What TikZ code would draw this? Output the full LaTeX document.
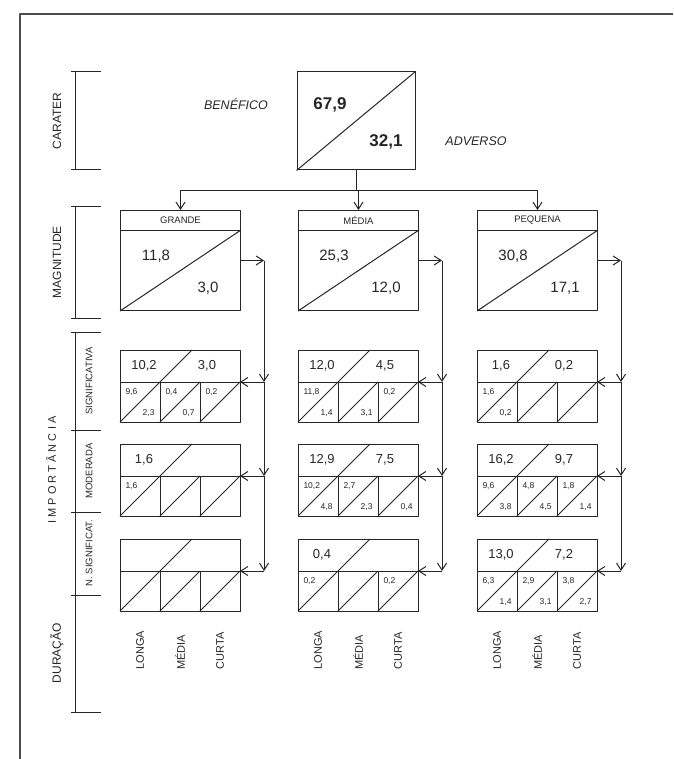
\documentclass[tikz,border=0pt]{standalone}
\usepackage{fontspec}
\setmainfont{Liberation Sans}
\usetikzlibrary{arrows.meta,positioning,calc}
\newcommand{\fs}[1]{\fontsize{#1}{#1}\selectfont}

\begin{document}
\begin{tikzpicture}[x=1pt,y=-1pt,line join=round,line width=1pt,color=black!85,
  >={Straight Barb[length=7pt,width=9pt]},
  magbox/.style={draw,minimum width=120pt,minimum height=100pt,inner sep=0pt,anchor=north west},
  impbox/.style={draw,minimum width=120pt,minimum height=72pt,inner sep=0pt,anchor=north west},
  lbl/.style={inner sep=0pt},
  axis/.style={rotate=90,font=\fs{12}},
  sub/.style={rotate=90,font=\fs{9.5}},
  dur/.style={rotate=90,anchor=west,font=\fs{11}},
  sm/.style={font=\fs{8.5}}]
\useasboundingbox (0,0) rectangle (673,759);
\draw[line width=1.4pt,black!70] (20,759) -- (20,14) -- (673,14);
% left scale
\draw (71,72) -- (101,72) (75,72) -- (75,170) (71,170) -- (101,170);
\draw (71,207) -- (101,207) (75,207) -- (75,318) (71,318) -- (101,318);
\draw (75,332) -- (75,712);
\foreach \t in {332,430,512,595,712} \draw (71,\t) -- (101,\t);
\node[lbl,axis] (lcar) at (57,121) {CARATER};
\node[lbl,axis] (lmag) at (57,262) {MAGNITUDE};
\node[lbl,rotate=90,font=\fs{11}\addfontfeature{LetterSpace=28}] (limp) at (51,470) {IMPORTÂNCIA};
\node[lbl,sub] (lsig) at (89,381) {SIGNIFICATIVA};
\node[lbl,sub] (lmod) at (89,471) {MODERADA};
\node[lbl,sub] (lnsg) at (89,553) {N. SIGNIFICAT.};
\node[lbl,axis] (ldur) at (57,653) {DURAÇÃO};
% carater
\node[draw,minimum width=118pt,minimum height=98pt,inner sep=0pt] (car) at (356,121) {};
\draw (car.south west) -- (car.north east);
\node[lbl,font=\bfseries\fs{17}] (benv) at (330,105) {67,9};
\node[lbl,font=\bfseries\fs{17}] (advv) at (386,142) {32,1};
\node[lbl,font=\itshape\fs{12.5}] (bent) at (236,104) {BENÉFICO};
\node[lbl,font=\itshape\fs{12.5}] (advt) at (476,141) {ADVERSO};
\draw (car.south) -- ++(0,20) coordinate (hub);
% magnitude
\foreach \c/\xl/\nm/\vA/\vB in {G/120/GRANDE/{11,8}/{3,0}, M/298/MÉDIA/{25,3}/{12,0}, P/477/PEQUENA/{30,8}/{17,1}}{
  \node[magbox] (mag\c) at (\xl,210) {};
  \draw ($(mag\c.north west)+(0,20)$) -- ($(mag\c.north east)+(0,20)$) coordinate (hr\c);
  \draw (mag\c.south west) -- (hr\c);
  \node[lbl,font=\fs{9.5}] (hd\c) at ($(mag\c.north)+(0,10)$) {\nm};
  \node[lbl,font=\fs{15}] (va\c) at (\xl+36,256) {\vA};
  \node[lbl,font=\fs{15}] (vb\c) at (\xl+88,288) {\vB};
  \coordinate (j\c0) at ($(mag\c.east)+(23,0)$);
  \draw[->] (mag\c.east) -- (j\c0);
  \draw[->] (mag\c.north |- hub) -- (mag\c.north);
}
\draw (magG.north |- hub) -- (magP.north |- hub);
% importancia x duracao
\foreach \c/\xl/\r/\yt/\nL/\nR/\aT/\aB/\bT/\bB/\cT/\cB in {
  G/120/1/350/{10,2}/{3,0}/{9,6}/{2,3}/{0,4}/{0,7}/{0,2}/{},
  G/120/2/444/{1,6}/{}/{1,6}/{}/{}/{}/{}/{},
  G/120/3/539/{}/{}/{}/{}/{}/{}/{}/{},
  M/298/1/350/{12,0}/{4,5}/{11,8}/{1,4}/{}/{3,1}/{0,2}/{},
  M/298/2/444/{12,9}/{7,5}/{10,2}/{4,8}/{2,7}/{2,3}/{}/{0,4},
  M/298/3/539/{0,4}/{}/{0,2}/{}/{}/{}/{0,2}/{},
  P/477/1/350/{1,6}/{0,2}/{1,6}/{0,2}/{}/{}/{}/{},
  P/477/2/444/{16,2}/{9,7}/{9,6}/{3,8}/{4,8}/{4,5}/{1,8}/{1,4},
  P/477/3/539/{13,0}/{7,2}/{6,3}/{1,4}/{2,9}/{3,1}/{3,8}/{2,7}}{
  \node[impbox] (b\c\r) at (\xl,\yt) {};
  \draw (\xl,\yt+32) -- (\xl+120,\yt+32) coordinate (m\c\r);
  \draw (\xl+40,\yt+32) -- (\xl+40,\yt+72) (\xl+80,\yt+32) -- (\xl+80,\yt+72);
  \draw (\xl,\yt+72) -- (\xl+72,\yt) (\xl+40,\yt+72) -- (\xl+80,\yt+32)
    (\xl+80,\yt+72) -- (\xl+120,\yt+32);
  \node[lbl,font=\fs{13}] (nl\c\r) at (\xl+24,\yt+16) {\nL};
  \node[lbl,font=\fs{13}] (nr\c\r) at (\xl+87,\yt+16) {\nR};
  \node[lbl,sm,anchor=west] (at\c\r) at (\xl+5,\yt+42) {\aT};
  \node[lbl,sm,anchor=east] (ab\c\r) at (\xl+35,\yt+63) {\aB};
  \node[lbl,sm,anchor=west] (bt\c\r) at (\xl+45,\yt+42) {\bT};
  \node[lbl,sm,anchor=east] (bb\c\r) at (\xl+75,\yt+63) {\bB};
  \node[lbl,sm,anchor=west] (ct\c\r) at (\xl+85,\yt+42) {\cT};
  \node[lbl,sm,anchor=east] (cb\c\r) at (\xl+115,\yt+63) {\cB};
  \coordinate (j\c\r) at (j\c0 |- m\c\r);
  \draw[->] (j\c\r) -- (m\c\r);
}
\foreach \c/\xl in {G/120,M/298,P/477}{
  \draw[->] (j\c0) -- (j\c1);
  \draw[->] (j\c1) -- (j\c2);
  \draw[->] (j\c2) -- (j\c3);
  \node[lbl,dur] (dl\c) at (\xl+20,670) {LONGA};
  \node[lbl,dur] (dm\c) at (\xl+60,670) {MÉDIA};
  \node[lbl,dur] (dc\c) at (\xl+100,670) {CURTA};
}
\end{tikzpicture}
\end{document}
